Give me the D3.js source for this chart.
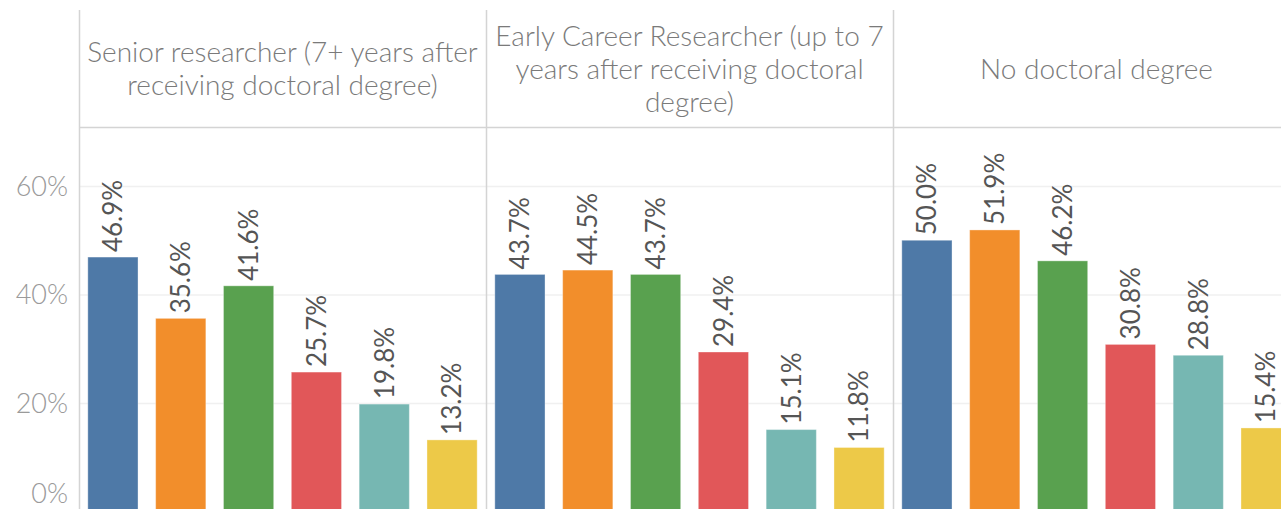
<!DOCTYPE html>
<html>
<head>
<meta charset="utf-8">
<script src="https://cdn.jsdelivr.net/npm/d3@7"></script>
<style>
  body { margin: 0; background: #fff; overflow: hidden; }
  svg { display: block; font-family: Lato, "Open Sans", sans-serif; }
</style>
</head>
<body>
<script>
// data
var panels = [
  "Senior researcher (7+ years after|receiving doctoral degree)",
  "Early Career Researcher (up to 7|years after receiving doctoral|degree)",
  "No doctoral degree"
];
var categories = ["a", "b", "c", "d", "e", "f"];
var senior = [46.9, 35.6, 41.6, 25.7, 19.8, 13.2];
var early = [43.7, 44.5, 43.7, 29.4, 15.1, 11.8];
var noDoc = [50.0, 51.9, 46.2, 30.8, 28.8, 15.4];
var yTicks = [0, 20, 40, 60];
var colors = ["#4e79a7", "#f28e2b", "#59a14f", "#e15759", "#76b7b2", "#edc948"];

var values = [senior, early, noDoc];

var W = 1281, H = 509,
	left = 79,
	headTop = 10,
	headerH = 117,
	panelW = 407;

var svg = d3.select("body").append("svg")
	.attr("width", W)
	.attr("height", H);

var y = d3.scaleLinear()
	.domain([0, 60])
	.range([511.5, 186]);

var px = d3.scaleBand()
	.domain(d3.range(panels.length))
	.range([left, left + panelW * panels.length]);

var x = d3.scaleBand()
	.domain(categories)
	.range([0, panelW])
	.paddingInner(0.26)
	.paddingOuter(0.13);

// gridlines
svg.append("g")
	.selectAll("line")
	.data(yTicks.filter(d => d > 0))
	.enter().append("line")
	.attr("x1", left)
	.attr("x2", W)
	.attr("y1", d => y(d) + 0.5)
	.attr("y2", d => y(d) + 0.5)
	.attr("stroke", "#f0f0f0")
	.attr("stroke-width", 1.5);

// y axis labels
svg.append("g")
	.selectAll("text")
	.data(yTicks)
	.enter().append("text")
	.attr("x", 68)
	.attr("y", d => Math.min(y(d), 493))
	.attr("dy", "0.36em")
	.attr("text-anchor", "end")
	.attr("fill", "#9a9a9a")
	.style("font-size", "27px")
	.style("font-weight", 300)
	.text(d => d + "%");

// panels
var g = svg.selectAll(".panel")
	.data(values)
	.enter().append("g")
	.attr("class", "panel")
	.attr("transform", (d, i) => "translate(" + px(i) + ",0)");

g.selectAll("rect")
	.data(d => d)
	.enter().append("rect")
	.attr("x", (d, i) => x(categories[i]))
	.attr("y", d => y(d))
	.attr("width", x.bandwidth())
	.attr("height", d => y(0) - y(d))
	.attr("fill", (d, i) => colors[i])
	.attr("stroke", "rgba(255,255,255,0.35)")
	.attr("stroke-width", 1);

g.selectAll(".lbl")
	.data(d => d)
	.enter().append("text")
	.attr("class", "lbl")
	.attr("transform", (d, i) => "translate(" + (x(categories[i]) + x.bandwidth() / 2) + "," + (y(d) - 5) + ") rotate(-90)")
	.attr("dy", "0.36em")
	.attr("fill", "#555")
	.style("font-size", "26px")
	.text(d => d.toFixed(1) + "%");

// header text
panels.forEach(function(p, i) {
	var lines = p.split("|");
	var lh = 33;
	var t = svg.append("text")
		.attr("text-anchor", "middle")
		.attr("fill", "#7a7a7a")
		.style("font-size", "28px")
		.style("font-weight", 300);
	lines.forEach(function(l, j) {
		t.append("tspan")
			.attr("x", px(i) + panelW / 2)
			.attr("y", headTop + headerH / 2 + (j - (lines.length - 1) / 2) * lh)
			.attr("dy", "0.36em")
			.text(l);
	});
});

// frame lines
svg.append("line")
	.attr("x1", left).attr("x2", W)
	.attr("y1", headTop + headerH + 0.5).attr("y2", headTop + headerH + 0.5)
	.attr("stroke", "#d4d4d4").attr("stroke-width", 1.5);

svg.append("g")
	.selectAll("line")
	.data(d3.range(panels.length))
	.enter().append("line")
	.attr("x1", d => px(d) + 0.5)
	.attr("x2", d => px(d) + 0.5)
	.attr("y1", headTop)
	.attr("y2", H)
	.attr("stroke", "#d4d4d4")
	.attr("stroke-width", 1.5);
</script>
</body>
</html>
